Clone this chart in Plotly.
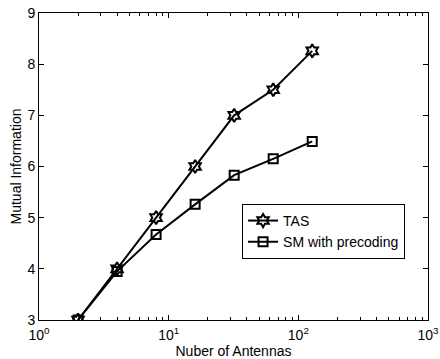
import plotly.graph_objects as go

antennas = [2, 4, 8, 16, 32, 64, 128]
tas = [3.0, 4.0, 5.0, 6.0, 7.0, 7.5, 8.26]
sm = [3.0, 3.95, 4.67, 5.26, 5.83, 6.15, 6.49]
x_tickvals = [1, 10, 100, 1000]
x_ticktext = ["10<sup>0</sup>", "10<sup>1</sup>", "10<sup>2</sup>", "10<sup>3</sup>"]
y_tickvals = [3, 4, 5, 6, 7, 8, 9]

fig = go.Figure()
fig.add_trace(go.Scatter(
    x=antennas, y=tas, name="TAS", mode="lines+markers",
    line=dict(color="black", width=2),
    marker=dict(symbol="hexagram-open", size=10, color="black", line=dict(width=2, color="black")),
))
fig.add_trace(go.Scatter(
    x=antennas, y=sm, name="SM with precoding", mode="lines+markers",
    line=dict(color="black", width=2),
    marker=dict(symbol="square-open", size=9, color="black", line=dict(width=2, color="black")),
))

fam = "Liberation Sans, Arial, sans-serif"
title_font = dict(family=fam, size=14, color="black")
tick_font = dict(family=fam, size=14, color="black")
fig.update_layout(
    width=440, height=359,
    margin=dict(l=39, r=12, t=13, b=39),
    plot_bgcolor="white", paper_bgcolor="white",
    font=title_font,
    showlegend=True,
    legend=dict(
        x=0.522, y=0.378, xanchor="left", yanchor="top",
        bgcolor="white", bordercolor="black", borderwidth=1,
        font=dict(family=fam, size=14, color="black"),
        tracegroupgap=0,
    ),
    xaxis=dict(
        type="log", range=[0, 3], automargin=False,
        tickvals=x_tickvals, ticktext=x_ticktext,
        ticks="inside", ticklen=5, tickcolor="black", ticklabelstandoff=2,
        showline=True, linecolor="black", linewidth=1, mirror="ticks",
        showgrid=False, zeroline=False,
        minor=dict(ticks="inside", ticklen=3, tickcolor="black", showgrid=False,
                   tickvals=[d * 10 ** e for e in range(3) for d in range(2, 10)]),
        title=dict(text="Nuber of Antennas", standoff=0, font=title_font),
        tickfont=tick_font,
    ),
    yaxis=dict(
        range=[3, 9], tickvals=y_tickvals, automargin=False,
        ticks="inside", ticklen=5, tickcolor="black",
        showline=True, linecolor="black", linewidth=1, mirror="ticks",
        showgrid=False, zeroline=False,
        title=dict(text="Mutual Information", standoff=2, font=title_font),
        tickfont=tick_font,
    ),
)
fig.write_html("out.html")
